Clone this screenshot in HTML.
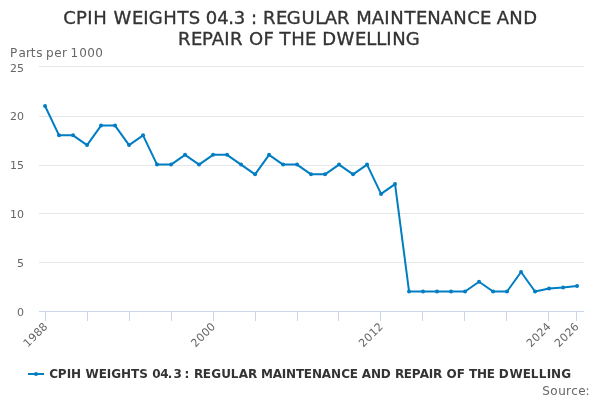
<!DOCTYPE html>
<html><head><meta charset="utf-8"><title>CPIH WEIGHTS 04.3</title>
<style>
html,body{margin:0;padding:0;background:#fff;}
svg{display:block;font-family:"DejaVu Sans","Liberation Sans",sans-serif;}
.ax{font-size:11px;fill:#666666;}
.xl{letter-spacing:0.3px;}
.title{font-size:18px;fill:#333333;stroke:#333333;stroke-width:0.35px;}
.leg{font-size:12px;font-weight:bold;fill:#333333;}
.yt{font-size:12px;fill:#666666;}
</style></head><body>
<svg width="600" height="400" viewBox="0 0 600 400">
<rect x="0" y="0" width="600" height="400" fill="#ffffff"/>
<path d="M 39 66.5 L 584 66.5" stroke="#e6e6e6" stroke-width="1" fill="none"/><path d="M 39 116.5 L 584 116.5" stroke="#e6e6e6" stroke-width="1" fill="none"/><path d="M 39 165.5 L 584 165.5" stroke="#e6e6e6" stroke-width="1" fill="none"/><path d="M 39 213.5 L 584 213.5" stroke="#e6e6e6" stroke-width="1" fill="none"/><path d="M 39 262.5 L 584 262.5" stroke="#e6e6e6" stroke-width="1" fill="none"/>
<path d="M 39 311.5 L 584 311.5" stroke="#ccd6eb" stroke-width="1" fill="none"/>
<path d="M 45.5 311 L 45.5 321" stroke="#ccd6eb" stroke-width="1" fill="none"/><path d="M 87.5 311 L 87.5 321" stroke="#ccd6eb" stroke-width="1" fill="none"/><path d="M 129.5 311 L 129.5 321" stroke="#ccd6eb" stroke-width="1" fill="none"/><path d="M 171.5 311 L 171.5 321" stroke="#ccd6eb" stroke-width="1" fill="none"/><path d="M 213.5 311 L 213.5 321" stroke="#ccd6eb" stroke-width="1" fill="none"/><path d="M 255.5 311 L 255.5 321" stroke="#ccd6eb" stroke-width="1" fill="none"/><path d="M 297.5 311 L 297.5 321" stroke="#ccd6eb" stroke-width="1" fill="none"/><path d="M 338.5 311 L 338.5 321" stroke="#ccd6eb" stroke-width="1" fill="none"/><path d="M 380.5 311 L 380.5 321" stroke="#ccd6eb" stroke-width="1" fill="none"/><path d="M 422.5 311 L 422.5 321" stroke="#ccd6eb" stroke-width="1" fill="none"/><path d="M 464.5 311 L 464.5 321" stroke="#ccd6eb" stroke-width="1" fill="none"/><path d="M 506.5 311 L 506.5 321" stroke="#ccd6eb" stroke-width="1" fill="none"/><path d="M 548.5 311 L 548.5 321" stroke="#ccd6eb" stroke-width="1" fill="none"/><path d="M 576.5 311 L 576.5 321" stroke="#ccd6eb" stroke-width="1" fill="none"/>
<text class="title" y="24" x="63.2 76 87.35 93.23 107 113.6 132.01 143.35 148.76 163.23 177.5 188.69 200 205.78 217.34 228.15 233.81 245 250.96 257 263.12 276.01 286.76 301.41 315.15 324.85 337.12 350 356.23 371.85 384.35 390.27 404.5 416.01 427.27 440.85 453.27 467.2 480.01 491 496.85 509.27 523.22">CPIH WEIGHTS 04.3 : REGULAR MAINTENANCE AND</text>
<text class="title" y="45" x="178.12 191.01 202 211.85 224.35 230.12 243 248.92 263.46 273 279.5 291.23 305.01 316 322.22 336.6 355.01 366.15 376.15 386.35 392.27 405.76">REPAIR OF THE DWELLING</text>
<text class="yt" y="57" x="10 18.51 25.99 30.63 36.34 43 45.97 54.3 61.99 67 70.58 79.19 87.19 95.19">Parts per 1000</text>
<path d="M 45.05 106.04 L 59.05 135.32 L 73.05 135.32 L 87.05 145.08 L 101.05 125.56 L 115.05 125.56 L 129.05 145.08 L 143.05 135.32 L 157.05 164.60 L 171.05 164.60 L 185.05 154.84 L 199.05 164.60 L 213.05 154.84 L 227.05 154.84 L 241.05 164.60 L 255.05 174.36 L 269.05 154.84 L 283.05 164.60 L 297.05 164.60 L 311.05 174.36 L 325.05 174.36 L 339.05 164.60 L 353.05 174.36 L 367.05 164.60 L 381.05 193.88 L 395.05 184.12 L 409.05 291.48 L 423.05 291.48 L 437.05 291.48 L 451.05 291.48 L 465.05 291.48 L 479.05 281.72 L 493.05 291.48 L 507.05 291.48 L 521.05 271.96 L 535.05 291.48 L 549.05 288.55 L 563.05 287.58 L 577.05 285.92" stroke="#007dc3" stroke-width="2" fill="none" stroke-linejoin="round" stroke-linecap="round"/>
<circle cx="45.05" cy="106.04" r="2" fill="#007dc3"/><circle cx="59.05" cy="135.32" r="2" fill="#007dc3"/><circle cx="73.05" cy="135.32" r="2" fill="#007dc3"/><circle cx="87.05" cy="145.08" r="2" fill="#007dc3"/><circle cx="101.05" cy="125.56" r="2" fill="#007dc3"/><circle cx="115.05" cy="125.56" r="2" fill="#007dc3"/><circle cx="129.05" cy="145.08" r="2" fill="#007dc3"/><circle cx="143.05" cy="135.32" r="2" fill="#007dc3"/><circle cx="157.05" cy="164.60" r="2" fill="#007dc3"/><circle cx="171.05" cy="164.60" r="2" fill="#007dc3"/><circle cx="185.05" cy="154.84" r="2" fill="#007dc3"/><circle cx="199.05" cy="164.60" r="2" fill="#007dc3"/><circle cx="213.05" cy="154.84" r="2" fill="#007dc3"/><circle cx="227.05" cy="154.84" r="2" fill="#007dc3"/><circle cx="241.05" cy="164.60" r="2" fill="#007dc3"/><circle cx="255.05" cy="174.36" r="2" fill="#007dc3"/><circle cx="269.05" cy="154.84" r="2" fill="#007dc3"/><circle cx="283.05" cy="164.60" r="2" fill="#007dc3"/><circle cx="297.05" cy="164.60" r="2" fill="#007dc3"/><circle cx="311.05" cy="174.36" r="2" fill="#007dc3"/><circle cx="325.05" cy="174.36" r="2" fill="#007dc3"/><circle cx="339.05" cy="164.60" r="2" fill="#007dc3"/><circle cx="353.05" cy="174.36" r="2" fill="#007dc3"/><circle cx="367.05" cy="164.60" r="2" fill="#007dc3"/><circle cx="381.05" cy="193.88" r="2" fill="#007dc3"/><circle cx="395.05" cy="184.12" r="2" fill="#007dc3"/><circle cx="409.05" cy="291.48" r="2" fill="#007dc3"/><circle cx="423.05" cy="291.48" r="2" fill="#007dc3"/><circle cx="437.05" cy="291.48" r="2" fill="#007dc3"/><circle cx="451.05" cy="291.48" r="2" fill="#007dc3"/><circle cx="465.05" cy="291.48" r="2" fill="#007dc3"/><circle cx="479.05" cy="281.72" r="2" fill="#007dc3"/><circle cx="493.05" cy="291.48" r="2" fill="#007dc3"/><circle cx="507.05" cy="291.48" r="2" fill="#007dc3"/><circle cx="521.05" cy="271.96" r="2" fill="#007dc3"/><circle cx="535.05" cy="291.48" r="2" fill="#007dc3"/><circle cx="549.05" cy="288.55" r="2" fill="#007dc3"/><circle cx="563.05" cy="287.58" r="2" fill="#007dc3"/><circle cx="577.05" cy="285.92" r="2" fill="#007dc3"/>
<text x="24" y="72" text-anchor="end" class="ax">25</text><text x="24" y="120" text-anchor="end" class="ax">20</text><text x="24" y="169" text-anchor="end" class="ax">15</text><text x="24" y="218" text-anchor="end" class="ax">10</text><text x="24" y="267" text-anchor="end" class="ax">5</text><text x="24" y="316" text-anchor="end" class="ax">0</text>
<text x="48.50" y="327.0" text-anchor="end" class="ax xl" transform="rotate(-45 48.50 327.0)">1988</text><text x="216.26" y="327.0" text-anchor="end" class="ax xl" transform="rotate(-45 216.26 327.0)">2000</text><text x="384.02" y="327.0" text-anchor="end" class="ax xl" transform="rotate(-45 384.02 327.0)">2012</text><text x="551.78" y="327.0" text-anchor="end" class="ax xl" transform="rotate(-45 551.78 327.0)">2024</text><text x="579.74" y="327.0" text-anchor="end" class="ax xl" transform="rotate(-45 579.74 327.0)">2026</text>
<path d="M 28 374 L 44 374" stroke="#007dc3" stroke-width="2" fill="none"/>
<circle cx="36" cy="374" r="2" fill="#007dc3"/>
<text class="leg" y="378" x="49.18 57.8 66.77 70.98 81 85.39 98.79 106.77 111.22 120.98 130.91 139.19 148 152.33 160.33 167.72 173.4 181 184.6 190 193.95 202.79 211.22 221.13 230.79 238.86 247.95 257 261.03 272.86 281.77 285.98 295.91 303.79 311.98 321.86 330.98 341.18 349.79 358 361.86 370.98 380.78 391 394.95 403.79 411.8 419.86 428.77 432.95 442 446.4 456.85 465 468.91 476.98 486.79 495 498.78 509.39 522.79 530.79 538.79 546.77 550.98 561.22">CPIH WEIGHTS 04.3 : REGULAR MAINTENANCE AND REPAIR OF THE DWELLING</text>
<text class="yt" y="395" x="542.13 550.33 558.23 565.99 571.24 578.3 585.48">Source:</text>
</svg>
</body></html>
